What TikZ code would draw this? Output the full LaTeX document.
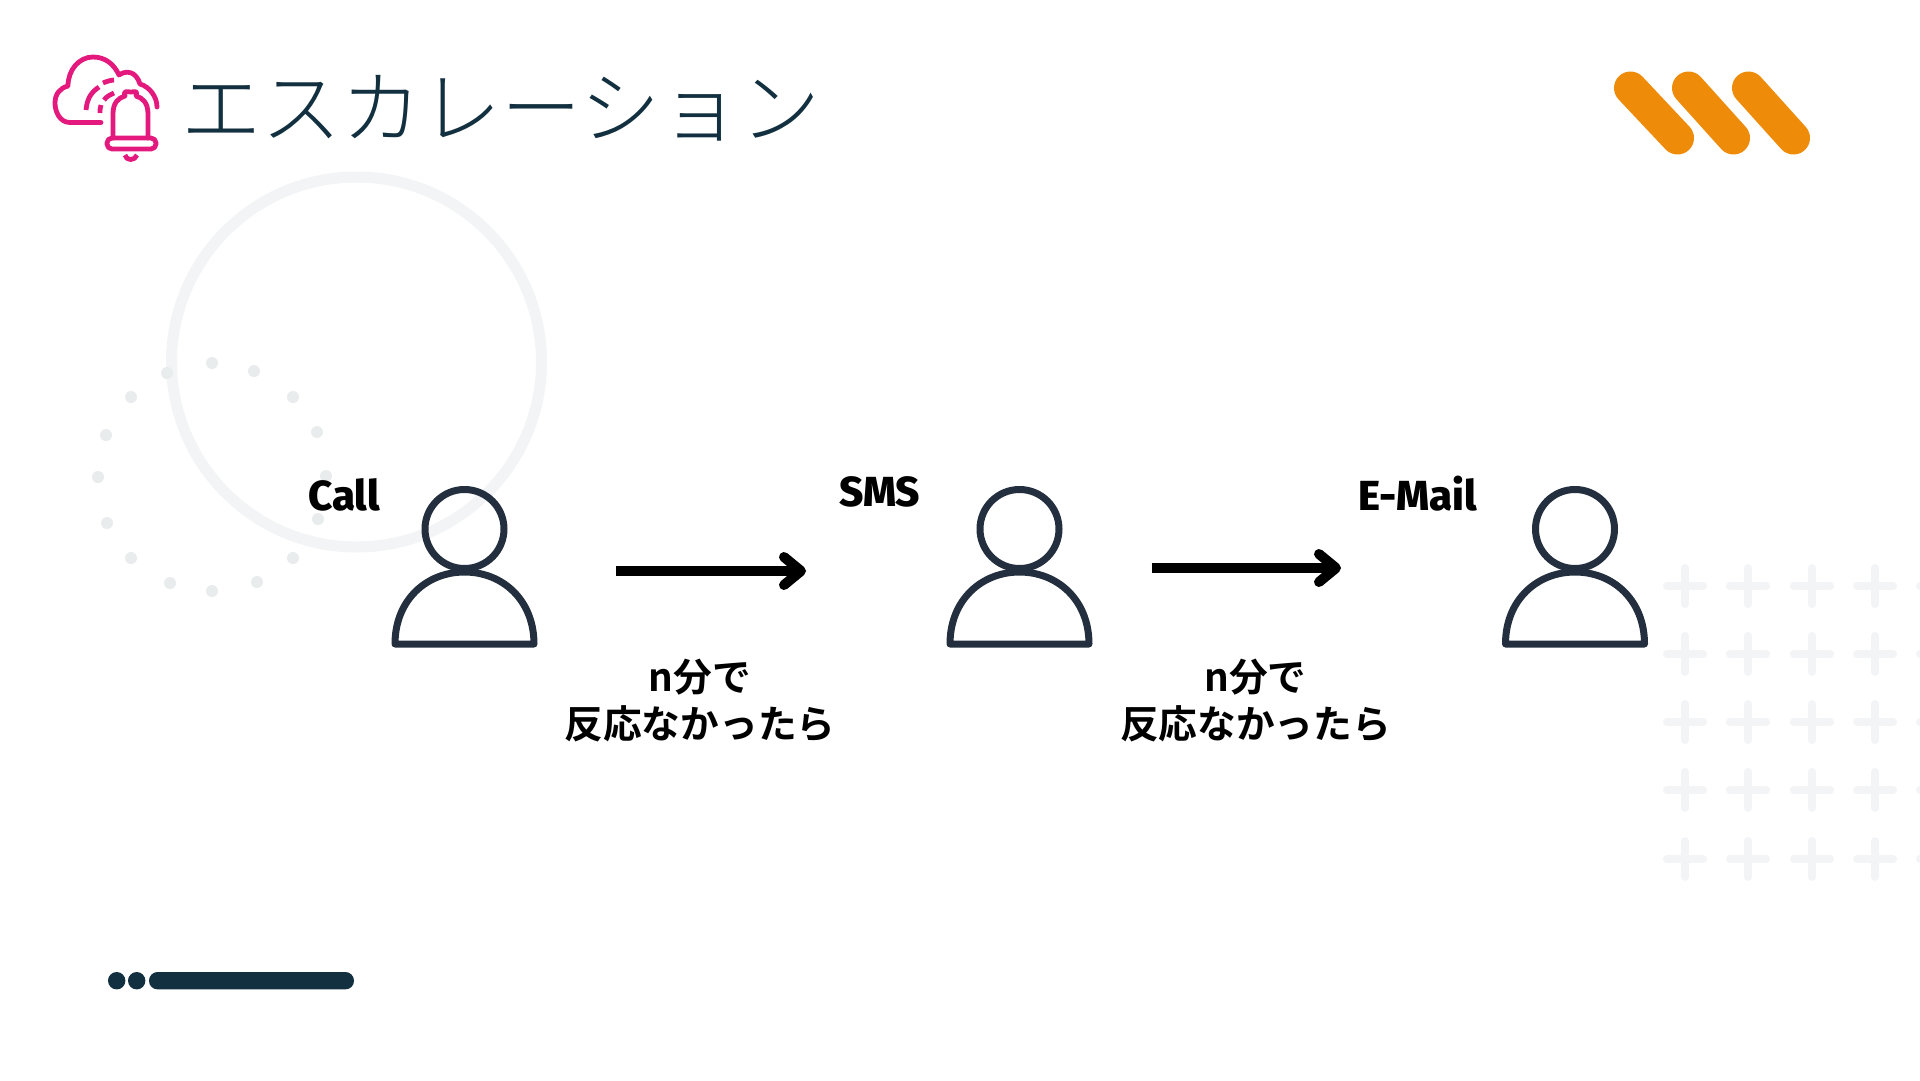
\documentclass[tikz,border=0pt]{standalone}
\usepackage{fontspec}
\usetikzlibrary{arrows.meta}
\newfontfamily\jpbold{Noto Sans CJK JP Bold}
\newfontfamily\jplight{Noto Sans CJK JP Light}
\newfontfamily\latbold[BoldFont={Fira Sans ExtraBold}]{Fira Sans}
\definecolor{ink}{HTML}{232F3E}
\definecolor{navy}{HTML}{12303F}
\definecolor{amber}{HTML}{EE8C0A}
\definecolor{rose}{HTML}{E3197D}
\definecolor{pale}{HTML}{F2F4F6}
\definecolor{dotc}{HTML}{E9ECEC}
\tikzset{
  x=1pt,y=-1pt,
  pill/.style={line width=33pt,line cap=round,amber},
  bgdot/.style={fill=dotc,draw=none},
  plusmark/.style={line width=8pt,line cap=round,pale},
  personline/.style={line width=7pt,ink,line join=round},
  flow/.style={line width=10pt,black,-{Straight Barb[length=17pt,width=28pt,round,line width=10pt]}},
  iconline/.style={line width=4.8pt,rose,line cap=round,line join=round},
  tag/.style={font=\latbold\bfseries\fontsize{42}{44}\selectfont,black,inner sep=0pt},
  note/.style={font=\jpbold\fontsize{38.7}{47}\selectfont,black,align=center,inner sep=0pt},
}
\newcommand{\personicon}[2]{%
  \coordinate (#1) at (#2,0);
  \draw[personline] (#2,529) circle[radius=39.5];
  \draw[personline] (#2-69.5,644) .. controls (#2-69.5,600) and (#2-38,572) .. (#2,572)
     .. controls (#2+38,572) and (#2+69.5,600) .. (#2+69.5,644) -- cycle;
}
\begin{document}
\begin{tikzpicture}
\useasboundingbox (0,0) rectangle (1920,1080);
\fill[white] (0,0) rectangle (1920,1080);
% background
\draw[pale,line width=11pt] (356.5,362) circle[radius=185];
\foreach \px/\py in {212/363,254/371,293/397,317/432,326/476,318/519,293/558,257/582,212/591,170/583,131/558,107/523,98/477,106/435,131/397,167/373}
  \fill[bgdot] (\px,\py) circle[radius=6];
\foreach \py in {586,654,722,790,859}
  \foreach \px in {1685,1748,1812,1875,1938}{
    \draw[plusmark] (\px-18,\py) -- (\px+18,\py);
    \draw[plusmark] (\px,\py-18) -- (\px,\py+18);
  }
% logo
\draw[pill] (1630.5,88) -- (1677.5,138);
\draw[pill] (1688.5,88) -- (1733.5,138);
\draw[pill] (1748.5,88) -- (1793.5,138);
% footer bar
\fill[navy] (116.7,980.7) circle[radius=8.7];
\fill[navy] (136.7,980.7) circle[radius=8.7];
\fill[navy,rounded corners=8.6pt] (149,972) rectangle (354,989.4);
% title icon
\draw[iconline] (101,122.5) -- (70,122.5) .. controls (60,122.5) and (55,112) .. (55,103)
   .. controls (55,94) and (60,88) .. (68,86) .. controls (68,70) and (79,57) .. (93,57)
   .. controls (105,57) and (114,64) .. (119,75) .. controls (126,70) and (136,71) .. (140,84)
   .. controls (150,87) and (157,97) .. (157,107);
\draw[iconline,line cap=butt] (86,110) .. controls (87,100) and (90,93) .. (99,87);
\draw[iconline,line cap=butt] (103,83) .. controls (105,82) and (111,80) .. (114,80);
\draw[iconline,line cap=butt] (100,113) .. controls (100,110) and (100,108) .. (101,105);
\draw[iconline,line cap=butt] (104,100) .. controls (107,96) and (110,95) .. (114,93);
\draw[iconline] (113,138) -- (113,114) .. controls (113,103) and (118,98) .. (125,96)
   .. controls (123,90) and (127,92) .. (131,92) .. controls (135,92) and (138,90) .. (136,96)
   .. controls (143,98) and (148,103) .. (148,114) -- (148,138);
\draw[iconline,rounded corners=5pt] (107,138) rectangle (156,149);
\draw[iconline,line cap=butt] (125,155) .. controls (126,161) and (135,161) .. (137,155);
% title
\node[anchor=west,inner sep=0pt,navy,font=\jplight\fontsize{80}{84}\selectfont] (title) at (181.5,108) {エスカレーション};
% persons
\personicon{pa}{464.5}
\personicon{pb}{1019.5}
\personicon{pc}{1575}
% labels
\node[tag] (call) at (344,494.5) {Call};
\node[tag] (sms) at (879.5,491.5) {SMS};
\node[tag] (email) at (1417.5,493.5) {E-Mail};
% arrows
\coordinate (a1s) at (616,571);
\coordinate (a1e) at (806,571);
\coordinate (a2s) at (1151.5,568);
\coordinate (a2e) at (1341,568);
\draw[flow] (a1s) -- (a1e);
\draw[flow] (a2s) -- (a2e);
\node[note] (n1) at (700,700) {n分で\\反応なかったら};
\node[note] (n2) at (1255.5,700) {n分で\\反応なかったら};
\end{tikzpicture}
\end{document}
